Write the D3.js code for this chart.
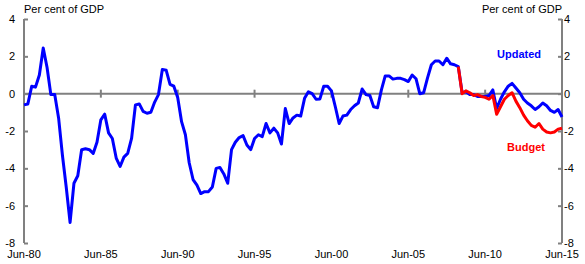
<!DOCTYPE html>
<html>
<head>
<meta charset="utf-8">
<script src="https://cdn.jsdelivr.net/npm/d3@7"></script>
<style>
  body { margin: 0; background: #fff; }
  svg { display: block; font-family: "Liberation Sans", Arial, sans-serif; }
</style>
</head>
<body>
<svg id="chart"></svg>
<script>
// quarterly, Jun-80 to Jun-15, per cent of GDP
const startDate = new Date(1980, 5, 1);
const updated = [
  -0.6, -0.55, 0.4, 0.35, 1.0, 2.45, 1.4, -0.05, -0.05, -1.3,
  -3.3, -5.0, -6.9, -4.8, -4.4, -3.0, -2.95, -3.0, -3.2, -2.6,
  -1.4, -1.1, -2.1, -2.4, -3.45, -3.9, -3.4, -3.2, -2.4, -0.6,
  -0.55, -0.95, -1.05, -1.0, -0.45, -0.05, 1.3, 1.25, 0.5, 0.4,
  -0.2, -1.5, -2.2, -3.7, -4.6, -4.9, -5.35, -5.25, -5.25, -5.0,
  -4.0, -3.95, -4.3, -4.8, -3.0, -2.6, -2.35, -2.25, -2.75, -3.0,
  -2.4, -2.2, -2.3, -1.6, -2.1, -1.85, -2.1, -2.7, -0.8, -1.6,
  -1.3, -1.15, -1.2, -0.25, 0.1, 0.0, -0.3, -0.28, 0.4, 0.4,
  0.15, -0.7, -1.6, -1.2, -1.15, -0.85, -0.65, -0.5, 0.25, -0.05,
  -0.1, -0.7, -0.75, 0.2, 0.95, 0.95, 0.78, 0.82, 0.82, 0.75,
  0.65, 1.0, 0.8, 0.0, 0.05, 0.85, 1.55, 1.75, 1.75, 1.55,
  1.9, 1.6, 1.55, 1.45, 0.05, 0.1, -0.05, -0.05, -0.15, -0.15,
  -0.15, -0.1, 0.2, -0.8, -0.3, 0.1, 0.4, 0.55, 0.3, 0.05,
  -0.3, -0.5, -0.65, -0.85, -0.7, -0.5, -0.65, -0.9, -1.0, -0.85,
  -1.25
];
// budget line branches off the updated series at quarter 113
const budgetStart = 113;
const budget = [
  1.45, 0.0, 0.15, 0.05, -0.1, -0.05, -0.15, -0.2, -0.3, -0.1,
  -1.1, -0.7, -0.3, -0.1, 0.05, -0.4, -0.75, -1.15, -1.45, -1.7,
  -1.8, -1.6, -1.9, -2.05, -2.1, -2.05, -1.9, -1.85
];
const xTickLabels = ["Jun-80", "Jun-85", "Jun-90", "Jun-95", "Jun-00", "Jun-05", "Jun-10", "Jun-15"];
const yTicks = [4, 2, 0, -2, -4, -6, -8];

const width = 585;
const height = 264;
const plotLeft = 24;
const plotRight = 562;
const plotTop = 19;
const plotBottom = 243;

const quarterDate = (i) => d3.timeMonth.offset(startDate, i * 3);
const tickDate = (label) => {
  const yy = +label.slice(4);
  return new Date(yy < 50 ? 2000 + yy : 1900 + yy, 5, 1);
};

const svg = d3.select("#chart")
  .attr("width", width)
  .attr("height", height);

const x = d3.scaleTime()
  .domain([startDate, quarterDate(updated.length - 1)])
  .range([plotLeft, plotRight]);

const y = d3.scaleLinear()
  .domain([-8, 4])
  .range([plotBottom, plotTop]);

const grey = "#808080";

// left and right axes with inward ticks
const leftAxis = d3.axisRight(y).tickValues(yTicks).tickSize(4).tickFormat("");
const rightAxis = d3.axisLeft(y).tickValues(yTicks).tickSize(4).tickFormat("");

[[leftAxis, plotLeft], [rightAxis, plotRight]].forEach(([axis, pos]) => {
  const g = svg.append("g").attr("transform", `translate(${pos},0)`).call(axis);
  g.select(".domain").attr("stroke", grey).attr("stroke-width", 2).attr("d", `M0,${plotTop}V${plotBottom}`);
  g.selectAll(".tick line").attr("stroke", grey).attr("stroke-width", 2);
});

// zero line with the year ticks on it
svg.append("line")
  .attr("x1", plotLeft).attr("x2", plotRight)
  .attr("y1", y(0)).attr("y2", y(0))
  .attr("stroke", grey)
  .attr("stroke-width", 2);

svg.append("g")
  .selectAll("line")
  .data(xTickLabels.slice(1, -1))
  .join("line")
  .attr("x1", (d) => x(tickDate(d)))
  .attr("x2", (d) => x(tickDate(d)))
  .attr("y1", y(0) - 4)
  .attr("y2", y(0) + 4)
  .attr("stroke", grey)
  .attr("stroke-width", 2);

// tick labels
svg.append("g")
  .selectAll("text")
  .data(yTicks)
  .join("text")
  .attr("x", plotLeft - 9)
  .attr("y", (d) => y(d) + 4)
  .attr("text-anchor", "end")
  .style("font-size", "11px")
  .text((d) => d);

svg.append("g")
  .selectAll("text")
  .data(yTicks)
  .join("text")
  .attr("x", plotRight + 2)
  .attr("y", (d) => y(d) + 4)
  .style("font-size", "11px")
  .text((d) => d);

svg.append("g")
  .selectAll("text")
  .data(xTickLabels)
  .join("text")
  .attr("x", (d) => x(tickDate(d)))
  .attr("y", 258)
  .attr("text-anchor", "middle")
  .style("font-size", "11px")
  .text((d) => d);

svg.append("text")
  .attr("x", plotLeft)
  .attr("y", 13)
  .style("font-size", "11px")
  .text("Per cent of GDP");

svg.append("text")
  .attr("x", plotRight)
  .attr("y", 13)
  .attr("text-anchor", "end")
  .style("font-size", "11px")
  .text("Per cent of GDP");

// series
const line = d3.line()
  .x((d) => x(quarterDate(d.i)))
  .y((d) => y(d.v));

svg.append("path")
  .datum(updated.map((v, i) => ({ i, v })))
  .attr("fill", "none")
  .attr("stroke", "#0000ff")
  .attr("stroke-width", 3)
  .attr("stroke-linejoin", "round")
  .attr("d", line);

svg.append("path")
  .datum(budget.map((v, k) => ({ i: budgetStart + k, v })))
  .attr("fill", "none")
  .attr("stroke", "#ff0000")
  .attr("stroke-width", 3)
  .attr("stroke-linejoin", "round")
  .attr("d", line);

// series labels
svg.append("text")
  .attr("x", 519)
  .attr("y", 58)
  .attr("text-anchor", "middle")
  .style("font-size", "11px")
  .style("font-weight", "bold")
  .style("fill", "#0000ff")
  .text("Updated");

svg.append("text")
  .attr("x", 526)
  .attr("y", 151)
  .attr("text-anchor", "middle")
  .style("font-size", "11px")
  .style("font-weight", "bold")
  .style("fill", "#ff0000")
  .text("Budget");
</script>
</body>
</html>
